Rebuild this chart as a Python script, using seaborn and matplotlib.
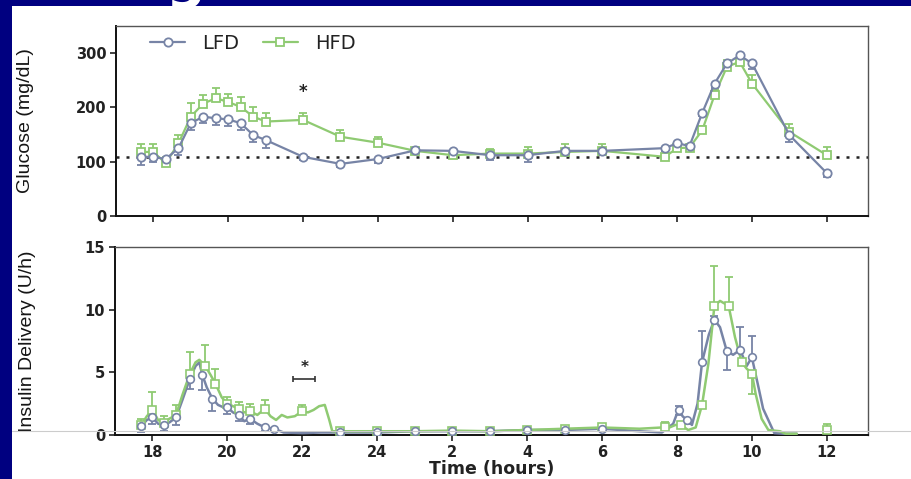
import numpy as np
import pandas as pd
import matplotlib
matplotlib.use("Agg")
import matplotlib.pyplot as plt
import seaborn as sns
from matplotlib.lines import Line2D

sns.set_style("white")

# ---------------- data ----------------
glu_t = [17.67, 18.0, 18.33, 18.67, 19.0, 19.33, 19.67, 20.0, 20.33, 20.67, 21.0, 22, 23, 24,
         25, 26, 27, 28, 29, 30, 31.67, 32.0, 32.33, 32.67, 33.0, 33.33, 33.67, 34.0, 35, 36]
glu_lfd = [109, 109, 105, 125, 171, 183, 180, 178, 171, 149, 140, 109, 96, 105,
           121, 120, 112, 112, 120, 120, 125, 134, 129, 190, 244, 281, 296, 281, 149, 79]
glu_lfd_err = [15, 10, 8, 12, 12, 12, 13, 12, 12, 12, 14, 6, 6, 8,
               5, 6, 8, 12, 6, 8, 6, 5, 5, 6, 8, 10, 10, 10, 12, 8]
glu_hfd = [118, 118, 97, 134, 183, 207, 217, 210, 201, 183, 174, 177, 146, 135,
           120, 112, 115, 115, 118, 120, 109, 125, 126, 158, 223, 275, 284, 244, 155, 112]
glu_hfd_err = [15, 15, 12, 15, 25, 15, 18, 15, 18, 18, 15, 12, 12, 10,
               6, 6, 8, 12, 15, 12, 6, 6, 6, 8, 10, 12, 10, 15, 15, 15]
glu_ref = 108

ins_lfd_t = [17.7, 17.85, 18.0, 18.15, 18.3, 18.45, 18.63, 18.8, 19.0, 19.15, 19.25, 19.33, 19.45,
             19.6, 19.75, 19.9, 20.0, 20.15, 20.3, 20.45, 20.6, 20.8, 21.0, 21.25, 21.5, 22.0, 22.5,
             23, 24, 25, 26, 27, 28, 29, 30, 31, 31.6, 31.9, 32.05, 32.15, 32.27, 32.4, 32.55,
             32.67, 32.85, 33.0, 33.15, 33.33, 33.5, 33.69, 33.86, 34.0, 34.17, 34.3, 34.5, 34.6,
             34.85, 35.2]
ins_lfd = [0.7, 1.2, 1.4, 0.9, 0.8, 1.0, 1.4, 2.8, 4.5, 5.5, 5.8, 4.8, 3.8,
           2.9, 2.4, 2.2, 2.2, 1.8, 1.6, 1.1, 1.3, 0.9, 0.6, 0.5, 0.2, 0.15, 0.2,
           0.2, 0.2, 0.3, 0.3, 0.3, 0.4, 0.4, 0.5, 0.3, 0.2, 0.9, 2.1, 1.5, 1.2, 0.8, 2.5,
           5.8, 8.0, 9.2, 8.6, 6.7, 6.4, 6.8, 5.5, 6.2, 3.9, 2.1, 0.8, 0.15,
           0.1, 0.1]
ins_lfd_mt = [17.7, 18.0, 18.3, 18.63, 19.0, 19.33, 19.6, 20.0, 20.3, 20.6, 21.0, 21.25,
              23, 24, 25, 26, 27, 28, 29, 30, 32.05, 32.27, 32.67, 33.0, 33.33, 33.69, 34.0]
ins_lfd_mv = [0.7, 1.4, 0.8, 1.4, 4.5, 4.8, 2.9, 2.2, 1.6, 1.3, 0.6, 0.5,
              0.2, 0.2, 0.3, 0.3, 0.3, 0.4, 0.4, 0.5, 2.0, 1.2, 5.8, 9.2, 6.7, 6.8, 6.2]
ins_lfd_lo = [0.5, 0.5, 0.5, 0.6, 0.8, 1.2, 1.0, 0.5, 0.5, 0.4, 0.3, 0.2,
              0, 0, 0, 0, 0, 0, 0, 0, 0.4, 0.3, 0, 0, 1.5, 0, 0]
ins_lfd_hi = [0, 0, 0, 0, 0, 0, 0, 0, 0, 0, 0, 0,
              0, 0, 0, 0, 0, 0, 0, 0, 0.3, 0, 2.5, 0.3, 0, 1.8, 1.7]

ins_hfd_t = [17.7, 17.85, 18.0, 18.15, 18.3, 18.45, 18.63, 18.8, 19.0, 19.15, 19.25, 19.41, 19.55,
             19.68, 19.85, 20.0, 20.15, 20.3, 20.45, 20.6, 20.8, 21.0, 21.15, 21.3, 21.45, 21.6,
             21.8, 22.0, 22.15, 22.3, 22.45, 22.6, 22.72, 22.8, 23, 24, 25, 26, 27, 28, 29, 30,
             31, 31.6, 31.8, 31.96, 32.1, 32.3, 32.5, 32.67, 32.84, 33.0, 33.15, 33.38, 33.55,
             33.73, 33.86, 34.0, 34.1, 34.26, 34.44, 34.75, 34.9, 35.2]
ins_hfd = [0.8, 1.5, 2.0, 1.2, 0.95, 1.3, 1.6, 3.2, 4.9, 5.8, 6.0, 5.5, 4.8,
           4.1, 3.0, 2.5, 2.3, 2.1, 1.8, 1.9, 1.6, 2.1, 1.5, 1.2, 1.6, 1.4,
           1.5, 1.9, 1.8, 2.0, 2.3, 2.4, 1.2, 0.3, 0.3, 0.3, 0.3, 0.35, 0.3, 0.4, 0.5, 0.6,
           0.5, 0.6, 0.6, 0.8, 0.8, 0.4, 0.6, 2.4, 5.7, 10.3, 10.7, 10.3, 7.8,
           5.8, 5.3, 4.9, 3.3, 1.3, 0.4, 0.3, 0.1, 0.1]
ins_hfd_mt = [17.7, 18.0, 18.3, 18.63, 19.0, 19.41, 19.68, 20.0, 20.3, 20.6, 21.0, 22.0,
              23, 24, 25, 26, 27, 28, 29, 30, 31.67, 32.1, 32.67, 33.0, 33.38, 33.73, 34.0, 36.0]
ins_hfd_mv = [0.8, 2.0, 0.95, 1.6, 4.9, 5.5, 4.1, 2.5, 2.1, 1.9, 2.1, 1.9,
              0.3, 0.3, 0.3, 0.35, 0.3, 0.4, 0.5, 0.6, 0.6, 0.8, 2.4, 10.3, 10.3, 5.8, 4.9, 0.4]
ins_hfd_lo = [0] * 26 + [1.6, 0]
ins_hfd_hi = [0.5, 1.4, 0.6, 0.8, 1.7, 1.7, 1.2, 0.5, 0.5, 0.6, 0.7, 0.5,
              0, 0, 0, 0, 0, 0.2, 0, 0.3, 0.4, 0, 0, 3.2, 2.3, 0, 0, 0.5]

x_ticks = [18, 20, 22, 24, 26, 28, 30, 32, 34, 36]
x_labels = ["18", "20", "22", "24", "2", "4", "6", "8", "10", "12"]

# ---------------- style ----------------
LFD_C = "#7784a6"
HFD_C = "#8fca72"
NAVY = "#000080"
lab_family = ["Liberation Sans", "DejaVu Sans"]
plt.rcParams["font.family"] = ["DejaVu Sans"]

fig = plt.figure(figsize=(9.12, 4.79), dpi=100, facecolor=NAVY)
W, H = 912, 479
fig.patches.append(plt.Rectangle((12 / W, 0), 1 - 12 / W, 1 - 6 / H, transform=fig.transFigure,
                                 facecolor="white", edgecolor="none", zorder=-5))
fig.text(185 / W, 1 + 3 / H, "g", color="white", fontsize=40, fontweight="bold",
         ha="center", va="baseline")

def px_axes(l, t, r, b):
    return fig.add_axes([l / W, 1 - b / H, (r - l) / W, (b - t) / H])

ax1 = px_axes(116, 26, 868, 216)
ax2 = px_axes(115, 247, 868, 435)

def style(ax):
    for s in ["top", "right"]:
        ax.spines[s].set_color("#555555")
        ax.spines[s].set_linewidth(1.0)
    for s in ["left", "bottom"]:
        ax.spines[s].set_color("#111111")
        ax.spines[s].set_linewidth(1.4)
    ax.set_xlim(17.0, 37.1)
    ax.set_xticks(x_ticks)
    ax.tick_params(axis="both", direction="out", length=4, width=1.2, color="#222222",
                   labelsize=10.5, pad=3, left=True, bottom=True)
    for lab in ax.get_yticklabels() + ax.get_xticklabels():
        lab.set_fontweight("bold")
        lab.set_color("#222222")

# ---------- glucose ----------
ax1.axhline(glu_ref, color="#222222", ls=(0, (1.2, 2.8)), lw=1.8, zorder=1)
ax1.errorbar(glu_t, glu_hfd, yerr=[[0] * len(glu_hfd_err), glu_hfd_err], fmt="none",
             ecolor=HFD_C, elinewidth=1.3, capsize=3, capthick=1.3, zorder=2)
ax1.errorbar(glu_t, glu_lfd, yerr=[glu_lfd_err, [0] * len(glu_lfd_err)], fmt="none",
             ecolor=LFD_C, elinewidth=1.3, capsize=3, capthick=1.3, zorder=2)
sns.lineplot(x=glu_t, y=glu_hfd, ax=ax1, color=HFD_C, lw=1.6, marker="s", ms=6,
             markerfacecolor="white", markeredgecolor=HFD_C, markeredgewidth=1.3,
             sort=False, errorbar=None, zorder=3)
sns.lineplot(x=glu_t, y=glu_lfd, ax=ax1, color=LFD_C, lw=1.6, marker="o", ms=6,
             markerfacecolor="white", markeredgecolor=LFD_C, markeredgewidth=1.3,
             sort=False, errorbar=None, zorder=4)
ax1.set_ylim(0, 350)
ax1.set_yticks([0, 100, 200, 300])
ax1.set_xticklabels([])
style(ax1)
ax1.text(22, 228, "*", ha="center", va="center", fontsize=12, fontweight="bold", color="#222222")
ax1.set_ylabel("Glucose (mg/dL)", family=lab_family, fontsize=14, color="#151515", labelpad=30)
handles = [Line2D([], [], color=LFD_C, lw=1.6, marker="o", ms=6, mfc="white", mec=LFD_C, mew=1.3),
           Line2D([], [], color=HFD_C, lw=1.6, marker="s", ms=6, mfc="white", mec=HFD_C, mew=1.3)]
ax1.legend(handles, ["LFD", "HFD"], ncol=2, loc="upper left", bbox_to_anchor=(0.022, 1.05),
           frameon=False, fontsize=14, handlelength=1.8, columnspacing=1.2, handletextpad=0.9,
           labelcolor="#222222")

# ---------- insulin ----------
ax2.errorbar(ins_hfd_mt, ins_hfd_mv, yerr=[ins_hfd_lo, ins_hfd_hi], fmt="none",
             ecolor=HFD_C, elinewidth=1.3, capsize=3, capthick=1.3, zorder=2)
ax2.errorbar(ins_lfd_mt, ins_lfd_mv, yerr=[ins_lfd_lo, ins_lfd_hi], fmt="none",
             ecolor=LFD_C, elinewidth=1.3, capsize=3, capthick=1.3, zorder=2)
sns.lineplot(x=ins_lfd_t, y=ins_lfd, ax=ax2, color=LFD_C, lw=1.8, sort=False, errorbar=None, zorder=3)
sns.lineplot(x=ins_hfd_t, y=ins_hfd, ax=ax2, color=HFD_C, lw=1.8, sort=False, errorbar=None, zorder=3)
ax2.plot(ins_hfd_mt, ins_hfd_mv, ls="none", marker="s", ms=5.5, mfc="white", mec=HFD_C, mew=1.2, zorder=4)
ax2.plot(ins_lfd_mt, ins_lfd_mv, ls="none", marker="o", ms=5.5, mfc="white", mec=LFD_C, mew=1.2, zorder=5)
ax2.set_ylim(0, 15)
ax2.set_yticks([0, 5, 10, 15])
ax2.set_xticklabels(x_labels)
ax2.set_xticks(np.arange(18, 37, 1), minor=True)
ax2.tick_params(axis="x", which="minor", direction="out", length=2.5, width=1.0, color="#222222")
style(ax2)
ax2.errorbar([22.05], [4.5], xerr=[0.29], fmt="none", ecolor="#333333", elinewidth=1.2,
             capsize=2.5, capthick=1.2)
ax2.text(22.05, 4.75, "*", ha="center", va="bottom", fontsize=11, fontweight="bold", color="#222222")
ax2.set_ylabel("Insulin Delivery (U/h)", family=lab_family, fontsize=14, color="#151515", labelpad=35)
ax2.set_xlabel("Time (hours)", fontsize=12.5, fontweight="bold", color="#222222", labelpad=0)

# slide artifact line
fig.add_artist(Line2D([12 / W, 1], [1 - 431 / H, 1 - 431 / H], transform=fig.transFigure,
                      color="#cccccc", lw=0.8, zorder=0.5))

fig.savefig("out.png", dpi=100, facecolor=NAVY)
